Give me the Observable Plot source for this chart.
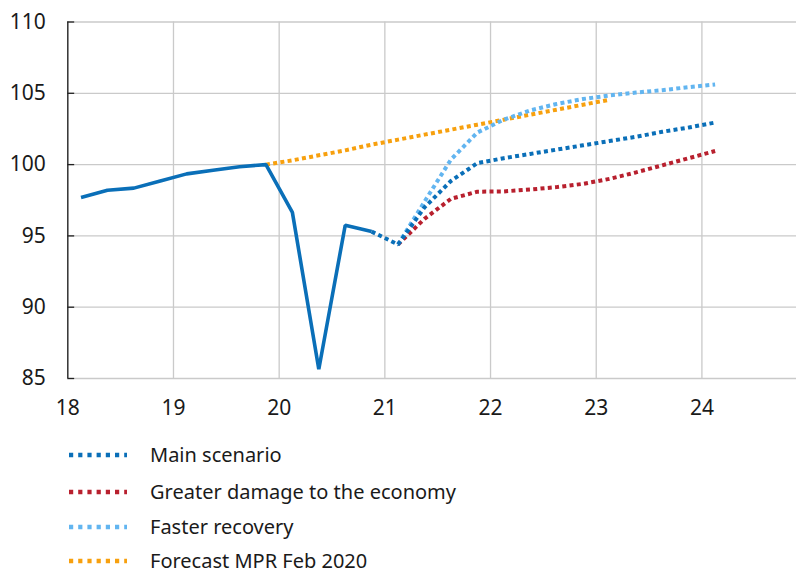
<!DOCTYPE html>
<html>
<head>
<meta charset="utf-8">
<script src="https://cdn.jsdelivr.net/npm/d3@7"></script>
<script src="https://cdn.jsdelivr.net/npm/@observablehq/plot@0.6"></script>
<style>
  body { margin: 0; background: #fff; font-family: "Noto Sans", sans-serif; overflow: hidden; }
  #chart { width: 796px; }
  .legend { position: relative; height: 148px; }
  .row { position: absolute; left: 0; height: 30px; display: flex; align-items: center; }
  .row svg { margin-left: 69px; }
  .row span { margin-left: 23px; font-size: 20px; line-height: 18px; color: #1a1a1a; }
</style>
</head>
<body>
<div id="chart"></div>
<script>
// Quarters (year + quarter)
const histQuarters = ["2018Q1","2018Q2","2018Q3","2018Q4","2019Q1","2019Q2","2019Q3","2019Q4","2020Q1","2020Q2","2020Q3","2020Q4"];
const histValues   = [97.7, 98.2, 98.35, 98.85, 99.35, 99.6, 99.85, 100.0, 96.65, 85.65, 95.75, 95.3];

const mainQuarters = ["2020Q4","2021Q1","2021Q2","2021Q3","2021Q4","2022Q1","2022Q2","2022Q3","2022Q4","2023Q1","2023Q2","2023Q3","2023Q4","2024Q1"];
const mainValues   = [95.3, 94.4, 97.0, 98.85, 100.1, 100.45, 100.75, 101.05, 101.35, 101.65, 101.95, 102.3, 102.6, 102.95];

const damageQuarters = ["2021Q1","2021Q2","2021Q3","2021Q4","2022Q1","2022Q2","2022Q3","2022Q4","2023Q1","2023Q2","2023Q3","2023Q4","2024Q1"];
const damageValues   = [94.4, 96.2, 97.6, 98.1, 98.12, 98.25, 98.42, 98.65, 99.0, 99.45, 99.95, 100.45, 100.95];

const fasterQuarters = ["2021Q1","2021Q2","2021Q3","2021Q4","2022Q1","2022Q2","2022Q3","2022Q4","2023Q1","2023Q2","2023Q3","2023Q4","2024Q1"];
const fasterValues   = [94.4, 97.4, 100.35, 102.25, 103.15, 103.8, 104.25, 104.6, 104.85, 105.05, 105.22, 105.43, 105.62];

const mprQuarters = ["2019Q4","2020Q1","2020Q2","2020Q3","2020Q4","2021Q1","2021Q2","2021Q3","2021Q4","2022Q1","2022Q2","2022Q3","2022Q4","2023Q1"];
const mprValues   = [100.0, 100.3, 100.65, 101.0, 101.4, 101.75, 102.1, 102.45, 102.8, 103.15, 103.5, 103.85, 104.2, 104.55];

const xTicks = [18, 19, 20, 21, 22, 23, 24];
const yTicks = [85, 90, 95, 100, 105, 110];

const seriesNames = ["Main scenario", "Greater damage to the economy", "Faster recovery", "Forecast MPR Feb 2020"];
const seriesColors = ["#0a6fb8", "#b8202e", "#62b5f0", "#f7a00e"];
const histColor = "#0a6fb8";

// quarter label -> position on the 2-digit-year axis (mid-quarter)
function pos(q) {
  const y = +q.slice(0, 4) - 2000;
  const k = +q.slice(5);
  return y + (k - 0.5) / 4;
}
function rows(qs, vs) { return qs.map((q, i) => ({x: pos(q), y: vs[i]})); }

const hist = rows(histQuarters, histValues);
const main = rows(mainQuarters, mainValues);
const damage = rows(damageQuarters, damageValues);
const faster = rows(fasterQuarters, fasterValues);
const mpr = rows(mprQuarters, mprValues);

const dash = "4,3.3";
const sw = 4;
const dotted = (data, color) => Plot.line(data, {x: "x", y: "y", stroke: color, strokeWidth: sw, strokeDasharray: dash, strokeLinecap: "butt", strokeLinejoin: "miter"});

const chart = Plot.plot({
  width: 796,
  height: 425,
  marginLeft: 67.3,
  marginRight: 0,
  marginTop: 21.5,
  marginBottom: 47,
  style: {fontFamily: "'Noto Sans', sans-serif", fontSize: "21px", color: "#1a1a1a", background: "#fff"},
  x: {domain: [18, 24.895], ticks: xTicks, label: null},
  y: {domain: [85, 110], ticks: yTicks, label: null},
  marks: [
    Plot.gridX(xTicks, {stroke: "#cacaca", strokeOpacity: 1, strokeWidth: 1.3}),
    Plot.gridY(yTicks, {stroke: "#cacaca", strokeOpacity: 1, strokeWidth: 1.3}),
    Plot.axisX(xTicks, {tickSize: 0, tickPadding: 22, fontSize: 21, tickFormat: d => String(d), label: null}),
    Plot.axisY(yTicks, {tickSize: 0, tickPadding: 22, fontSize: 21, tickFormat: d => String(d), label: null}),
    Plot.ruleX([18], {stroke: "#222", strokeWidth: 1.3}),
    Plot.ruleY(yTicks, {x1: 18, x2: 18.065, stroke: "#222", strokeWidth: 1.3}),
    dotted(mpr, seriesColors[3]),
    dotted(damage, seriesColors[1]),
    dotted(faster, seriesColors[2]),
    dotted(main, seriesColors[0]),
    Plot.line(hist, {x: "x", y: "y", stroke: histColor, strokeWidth: 3.6, strokeLinejoin: "miter", strokeLinecap: "butt"})
  ]
});
document.getElementById("chart").appendChild(chart);

// Legend
const legend = document.createElement("div");
legend.className = "legend";
const rowTops = [15, 52, 87, 121];
seriesNames.forEach((name, i) => {
  const row = document.createElement("div");
  row.className = "row";
  row.style.top = rowTops[i] + "px";
  row.innerHTML = `<svg width="58" height="6"><line x1="0" y1="3" x2="58" y2="3" stroke="${seriesColors[i]}" stroke-width="4.5" stroke-dasharray="4.2,5"/></svg><span>${name}</span>`;
  legend.appendChild(row);
});
document.getElementById("chart").appendChild(legend);
</script>
</body>
</html>
